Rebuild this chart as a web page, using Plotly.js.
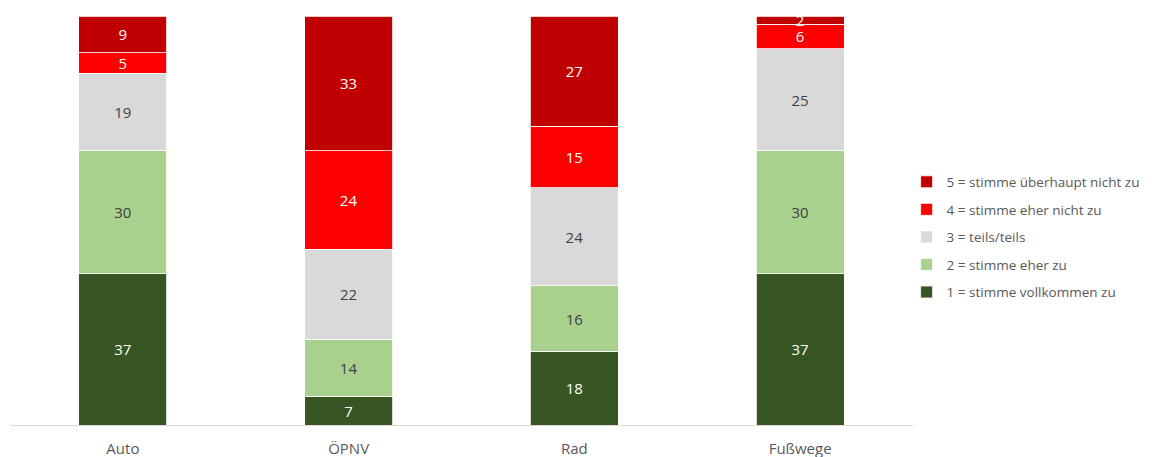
<!DOCTYPE html>
<html><head><meta charset="utf-8">
<script src="https://cdn.plot.ly/plotly-3.0.1.min.js"></script>
<style>html,body{margin:0;padding:0;background:#fff}</style>
</head><body><div id="chart" style="width:1152px;height:457px"></div>
<script>
const categories = ["Auto", "ÖPNV", "Rad", "Fußwege"];
const s1 = [37, 7, 18, 37];
const s2 = [30, 14, 16, 30];
const s3 = [19, 22, 24, 25];
const s4 = [5, 24, 15, 6];
const s5 = [9, 33, 27, 2];
const seriesNames = ["1 = stimme vollkommen zu", "2 = stimme eher zu", "3 = teils/teils", "4 = stimme eher nicht zu", "5 = stimme überhaupt nicht zu"];
const seriesValues = [s1, s2, s3, s4, s5];
const colors = ["#375623", "#A9D18E", "#D9D9D9", "#FF0000", "#C00000"];
const textColors = ["#ffffff", "#404040", "#404040", "#ffffff", "#ffffff"];
const font = "Open Sans, Noto Sans, sans-serif";

const traces = seriesValues.map((vals, i) => ({
  type: "bar",
  x: categories,
  y: vals,
  name: seriesNames[i],
  legendgroup: "g" + i,
  legendrank: 1000 - i,
  marker: {color: colors[i], line: {color: "#ffffff", width: 0.8}},
  text: vals.map(String),
  textposition: "inside",
  insidetextanchor: "middle",
  textangle: 0,
  constraintext: "none",
  textfont: {family: font, size: 15, color: textColors[i]},
  hoverinfo: "none"
}));

const layout = {
  barmode: "stack",
  bargap: 0.61,
  margin: {l: 10, r: 239, t: 16, b: 32, autoexpand: false},
  paper_bgcolor: "#ffffff",
  plot_bgcolor: "#ffffff",
  font: {family: font, color: "#595959"},
  showlegend: true,
  legend: {
    xref: "container", x: 0.787, xanchor: "left", y: 0.632, yanchor: "top",
    traceorder: "grouped", tracegroupgap: 7,
    font: {family: font, size: 13.5, color: "#595959"},
    itemwidth: 30
  },
  xaxis: {
    showline: true, linecolor: "#D9D9D9", linewidth: 1,
    ticks: "", ticklabelstandoff: 10,
    tickfont: {family: font, size: 15, color: "#595959"},
    showgrid: false, zeroline: false, fixedrange: true
  },
  yaxis: {
    range: [0, 100], visible: false, showgrid: false, zeroline: false, fixedrange: true
  }
};

Plotly.newPlot("chart", traces, layout, {displayModeBar: false, staticPlot: true});
</script></body></html>
